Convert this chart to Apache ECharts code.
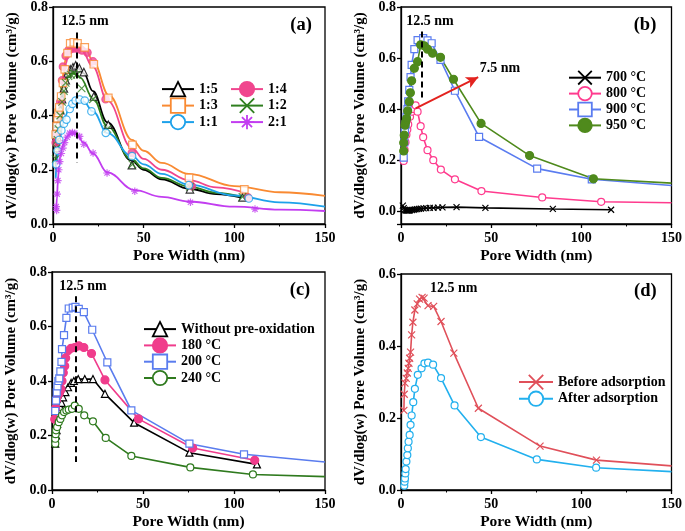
<!DOCTYPE html>
<html><head><meta charset="utf-8">
<script src="https://cdn.jsdelivr.net/npm/echarts@6/dist/echarts.min.js"></script>
<style>html,body{margin:0;padding:0;background:#fff}#c{width:685px;height:531px}</style>
</head><body><div id="c"></div>
<script>
// ---------- Panel (a): fitted curves ----------
const aCurve15 = [[1.5,0.22],[2,0.26],[3,0.33],[4,0.4],[5,0.46],[6,0.5],[7,0.535],[8.5,0.56],[10,0.575],[12,0.58],[14,0.575],[17,0.555],[22,0.49],[30,0.375],[43,0.235],[50,0.2],[60,0.165],[75,0.13],[90,0.11],[104,0.097]];
const aCurve14 = [[1.5,0.27],[2,0.31],[3,0.38],[4,0.44],[5,0.5],[6,0.55],[7,0.59],[8.5,0.625],[10,0.64],[13,0.645],[16,0.638],[22,0.58],[30,0.455],[43.6,0.28],[50,0.24],[60,0.2],[75,0.162],[90,0.135],[108,0.11]];
const aCurve13 = [[1.5,0.28],[2,0.33],[3,0.4],[4,0.46],[5,0.52],[6,0.57],[7,0.61],[8.5,0.645],[10,0.662],[12,0.669],[15,0.662],[18,0.645],[22,0.6],[31,0.473],[43.6,0.31],[50,0.27],[60,0.225],[75,0.185],[100,0.14],[125,0.117],[150,0.104]];
const aCurve12 = [[1.5,0.2],[2,0.25],[3,0.34],[4,0.41],[5,0.46],[6,0.5],[7,0.525],[8.5,0.548],[10.5,0.555],[13,0.552],[15,0.54],[22,0.465],[30,0.36],[43,0.24],[50,0.205],[60,0.17],[75,0.138],[90,0.115],[104,0.1]];
const aCurve11 = [[1.5,0.17],[2,0.22],[3,0.28],[4,0.32],[5,0.355],[6,0.38],[7,0.4],[8.5,0.425],[10,0.44],[12,0.452],[14,0.457],[17,0.45],[22,0.415],[30,0.335],[43.6,0.25],[50,0.22],[60,0.185],[75,0.145],[100,0.105],[125,0.08],[150,0.064]];
const aCurve21 = [[1.8,0.05],[2.2,0.1],[2.7,0.16],[3.3,0.21],[4,0.25],[5,0.28],[6,0.3],[7.5,0.32],[9,0.33],[11,0.335],[13,0.33],[17,0.3],[22,0.26],[30,0.19],[45,0.125],[60,0.1],[75,0.083],[100,0.064],[125,0.053],[150,0.048]];
// ---------- Panel (a): measured points ----------
const aPts15 = [[2,0.28],[2.5,0.32],[3,0.37],[4,0.42],[5,0.46],[6,0.5],[7,0.53],[8,0.555],[9.5,0.57],[11,0.578],[12.5,0.585],[14.5,0.575],[17,0.56],[22.5,0.47],[30.5,0.366],[43.5,0.217],[75.5,0.128],[104.5,0.098]];
const aPts14 = [[1.5,0.3],[2,0.33],[3,0.4],[4,0.45],[5,0.53],[5.5,0.58],[7,0.62],[8.5,0.64],[10,0.645],[12,0.647],[14,0.645],[16,0.64],[19,0.632],[22,0.6],[29,0.46],[43.5,0.262],[76.5,0.14],[107.5,0.098]];
const aPts13 = [[1.5,0.33],[2,0.36],[2.5,0.39],[3,0.41],[3.5,0.43],[4.5,0.47],[5.5,0.52],[6.5,0.57],[8,0.63],[9.5,0.666],[11.5,0.67],[13.5,0.666],[17.5,0.651],[22.5,0.589],[30.5,0.465],[43.8,0.292],[75,0.17],[105.5,0.128]];
const aPts12 = [[1.5,0.24],[2,0.28],[2.5,0.31],[3,0.35],[4,0.4],[5,0.45],[6,0.49],[7,0.52],[8.5,0.545],[10,0.55],[11.5,0.555],[13,0.55],[15.8,0.5],[22,0.46],[30,0.35],[43.8,0.22],[75.5,0.137],[104.5,0.1]];
const aPts11 = [[1.8,0.22],[2.5,0.27],[3.5,0.31],[4.6,0.345],[6,0.37],[7.4,0.385],[9.2,0.424],[10.7,0.443],[12.5,0.455],[14.7,0.459],[17.5,0.455],[21.2,0.415],[29.1,0.336],[43.6,0.25],[74.9,0.143],[108,0.094]];
const aPts21 = [[1.8,0.064],[2,0.05],[2.3,0.11],[2.7,0.16],[3.2,0.2],[3.7,0.23],[4.6,0.26],[5.5,0.28],[6.4,0.3],[7.8,0.32],[9.2,0.335],[10.7,0.337],[12,0.335],[14.7,0.323],[17,0.294],[22.1,0.262],[29.8,0.188],[45.1,0.121],[75.8,0.08],[111.4,0.055]];
// ---------- Panel (b) ----------
const b700 = [[1,0.022],[1.5,0.012],[2,0.006],[2.5,0.004],[3,0.003],[3.5,0.003],[4,0.003],[4.5,0.003],[5,0.004],[6,0.005],[7,0.006],[8,0.007],[9,0.008],[10,0.009],[11,0.01],[12.5,0.011],[14,0.012],[16,0.013],[18,0.013],[20.5,0.014],[23,0.015],[30.8,0.016],[46.8,0.013],[84.2,0.009],[116.5,0.006]];
const b800 = [[1.5,0.197],[2,0.24],[2.5,0.27],[3,0.3],[3.5,0.32],[4,0.34],[5,0.37],[6,0.39],[6.8,0.4],[8.1,0.415],[9.2,0.39],[10.9,0.333],[12.3,0.29],[14.7,0.239],[17.9,0.2],[22.1,0.163],[29.9,0.125],[44.6,0.079],[78.3,0.054],[111,0.037]];
const b800Tail = [[150,0.033]];
const b900 = [[1.5,0.21],[1.8,0.27],[2.2,0.31],[2.6,0.34],[3.1,0.37],[3.6,0.4],[4,0.43],[4.6,0.475],[5.3,0.525],[5.9,0.573],[7.4,0.635],[9.2,0.67],[12.3,0.678],[14.7,0.669],[17,0.658],[21.9,0.593],[29.9,0.472],[43.3,0.291],[75.5,0.167],[105.8,0.125]];
const b900Tail = [[150,0.101]];
const b950 = [[1.5,0.236],[1.5,0.268],[1.8,0.298],[2.2,0.337],[2.6,0.35],[3.1,0.363],[3.7,0.393],[4.6,0.429],[5.2,0.464],[5.9,0.511],[7.4,0.56],[9.2,0.586],[10.9,0.652],[12.9,0.648],[14.7,0.635],[17.5,0.619],[21.9,0.603],[29.1,0.517],[44.4,0.344],[71.3,0.218],[106.7,0.127]];
const b950Tail = [[150,0.11]];
// ---------- Panel (c) ----------
const cNone = [[1.8,0.17],[2.2,0.2],[2.5,0.22],[2.8,0.243],[3.3,0.274],[4,0.29],[4.6,0.304],[5.3,0.32],[6.1,0.34],[7.4,0.359],[8.8,0.377],[10.5,0.393],[12,0.4],[14.4,0.407],[18,0.407],[22.5,0.407],[29.1,0.353],[45.1,0.247],[75.5,0.137],[112.6,0.094]];
const c180 = [[1.5,0.26],[2,0.3],[2.5,0.33],[3,0.345],[4,0.355],[5,0.37],[5.5,0.4],[6.2,0.43],[7,0.455],[7.5,0.484],[8.7,0.511],[10.5,0.52],[12.5,0.523],[14.7,0.529],[17.5,0.523],[21.7,0.501],[29.1,0.404],[47.5,0.261],[77.3,0.154],[111.4,0.109]];
const c200 = [[1.8,0.29],[2.2,0.328],[2.6,0.358],[3,0.38],[3.5,0.4],[4,0.41],[4.6,0.435],[5.2,0.47],[5.5,0.517],[6.6,0.568],[7.9,0.632],[9.2,0.666],[11.4,0.669],[12.9,0.672],[14.7,0.665],[17.5,0.653],[22.1,0.588],[30.4,0.468],[43.6,0.292],[75.5,0.17],[105.5,0.131]];
const c200Tail = [[150,0.103]];
const c240 = [[1.8,0.17],[1.8,0.188],[2,0.205],[2.2,0.219],[2.8,0.231],[3.7,0.249],[4.6,0.261],[5.5,0.274],[6.6,0.286],[7.9,0.292],[9.2,0.295],[11,0.298],[12.5,0.31],[14.7,0.298],[17.7,0.274],[22.5,0.252],[29.5,0.191],[43.6,0.125],[76,0.083],[110.4,0.057]];
const c240Tail = [[150,0.049]];
// ---------- Panel (d) ----------
const dBefore = [[1.6,0.221],[1.8,0.266],[2.2,0.297],[2.9,0.31],[3.5,0.325],[4,0.338],[4.4,0.352],[4.8,0.366],[5.3,0.383],[5.9,0.431],[6.6,0.466],[7.7,0.5],[9,0.517],[10.3,0.53],[11.7,0.535],[12.8,0.533],[15,0.512],[18.1,0.51],[22.2,0.468],[29.3,0.38],[42.9,0.227],[77.1,0.122],[108.4,0.083]];
const dBeforeTail = [[150,0.067]];
const dAfter = [[1.8,0.012],[2,0.023],[2.2,0.032],[2.4,0.046],[2.6,0.058],[3,0.079],[3.5,0.097],[3.8,0.116],[4.2,0.134],[4.8,0.153],[5.3,0.181],[5.9,0.207],[6.8,0.244],[7.7,0.281],[9.3,0.32],[11.4,0.338],[13,0.352],[15,0.354],[17.8,0.348],[22.2,0.311],[29.7,0.235],[44.3,0.147],[75.3,0.085],[108.2,0.062]];
const dAfterTail = [[150,0.051]];

const yTicks = ['0.0','0.2','0.4','0.6','0.8'];
const xName = 'Pore Width (nm)';
const yName = 'dV/dlog(w) Pore Volume (cm³/g)';

const FONT = '"Liberation Serif", "Times New Roman", serif';
const X_SYM = 'path://M0,0L10,10M10,0L0,10';
const STAR_SYM = 'path://M5,0L5,10M0,5L10,5M1.5,1.5L8.5,8.5M8.5,1.5L1.5,8.5';

const grids = [
  {left:53, top:5, width:272, height:219},
  {left:401, top:5, width:272, height:219},
  {left:52, top:272, width:273, height:220},
  {left:401, top:274, width:273, height:216}
];
const yRanges = [[0,0.8],[-0.05,0.8],[0,0.8],[0,0.6]];

function xAx(i){
  return {gridIndex:i, type:'value', min:0, max:150, interval:50,
    name:xName, nameLocation:'middle', nameGap:24,
    nameTextStyle:{fontFamily:FONT,fontWeight:'bold',fontSize:15.5,color:'#000'},
    axisLine:{onZero:false, lineStyle:{color:'#000',width:1.3}},
    axisTick:{show:true,inside:false,length:4,lineStyle:{color:'#000',width:1.3}},
    minorTick:{show:true,splitNumber:2,length:2.5,lineStyle:{color:'#000',width:1}},
    axisLabel:{margin:7,fontFamily:FONT,fontWeight:'bold',fontSize:14,color:'#000'},
    splitLine:{show:false}, minorSplitLine:{show:false}};
}
function yAx(i){
  const r = yRanges[i];
  const o = {gridIndex:i, type:'value', min:r[0], max:r[1],
    name:yName, nameLocation:'middle', nameGap:33, nameRotate:90,
    nameTextStyle:{fontFamily:FONT,fontWeight:'bold',fontSize:15,color:'#000'},
    axisLine:{onZero:false, lineStyle:{color:'#000',width:1.3}},
    axisTick:{show:true,inside:false,length:4,lineStyle:{color:'#000',width:1.3}},
    axisLabel:{margin:5,fontFamily:FONT,fontWeight:'bold',fontSize:14,color:'#000',
      formatter:function(v){ if (v < -1e-9) return ''; const s = v.toFixed(1); return yTicks.indexOf(s) >= 0 ? s : ''; }},
    splitLine:{show:false}};
  if (r[0] >= 0) o.interval = 0.2;
  return o;
}

function style(color, hollow){
  return hollow ? {color:'#fff', borderColor:color, borderWidth:1.2}
                : {color:color, borderColor:color, borderWidth:1.2};
}
function withTail(pts, tail){
  return pts.concat((tail||[]).map(function(p){ return {value:p, symbol:'none'}; }));
}
function lineS(name, gi, pts, tail, color, symbol, hollow, size){
  return {name:name, type:'line', xAxisIndex:gi, yAxisIndex:gi,
    data:withTail(pts, tail), symbol:symbol, symbolSize:size||7, showSymbol:true,
    lineStyle:{color:color, width:1.6}, itemStyle:style(color, hollow),
    emphasis:{disabled:true}, z:3};
}
function curveS(name, pts, color, symbol, hollow){
  return {name:name, type:'line', xAxisIndex:0, yAxisIndex:0, data:pts,
    smooth:0.4, smoothMonotone:'x', symbol:symbol, symbolSize:7, showSymbol:false,
    lineStyle:{color:color, width:1.8}, itemStyle:style(color, hollow),
    emphasis:{disabled:true}, z:2};
}
function ptsS(name, pts, color, symbol, hollow){
  return {name:name+' pts', type:'scatter', xAxisIndex:0, yAxisIndex:0, data:pts,
    symbol:symbol, symbolSize:7.5, itemStyle:style(color, hollow), emphasis:{disabled:true}, z:3};
}
function dashed(x, y1, y2){
  return {silent:true, symbol:['none','none'], label:{show:false}, animation:false,
    lineStyle:{color:'#000', type:[6,4], width:2},
    data:[[{coord:[x,y1]},{coord:[x,y2]}]]};
}

const C = {
  a15:'#000000', a14:'#F0468E', a13:'#F98A32', a12:'#2F7F1F', a11:'#1DA1EA', a21:'#C23DF0',
  b700:'#000000', b800:'#FF3B8E', b900:'#5A7CF0', b950:'#4F8A1C',
  cNone:'#000000', c180:'#F03C8C', c200:'#5A7CEE', c240:'#2F7A1E',
  dB:'#E0505A', dA:'#22B0EE'
};

const s15 = curveS('1:5', aCurve15, C.a15, 'triangle', true);
s15.markLine = dashed(13.3, 0.706, 0.226);
const series = [
  s15,
  curveS('1:4', aCurve14, C.a14, 'circle', false),
  curveS('1:3', aCurve13, C.a13, 'rect', true),
  curveS('1:2', aCurve12, C.a12, X_SYM, false),
  curveS('1:1', aCurve11, C.a11, 'circle', true),
  curveS('2:1', aCurve21, C.a21, STAR_SYM, false),
  ptsS('1:5', aPts15, C.a15, 'triangle', true),
  ptsS('1:4', aPts14, C.a14, 'circle', false),
  ptsS('1:3', aPts13, C.a13, 'rect', true),
  ptsS('1:2', aPts12, C.a12, X_SYM, false),
  ptsS('1:1', aPts11, C.a11, 'circle', true),
  ptsS('2:1', aPts21, C.a21, STAR_SYM, false)
];
const s700 = lineS('700 °C', 1, b700, null, C.b700, X_SYM, false, 6);
const s800 = lineS('800 °C', 1, b800, b800Tail, C.b800, 'circle', true, 7);
s800.markLine = {silent:true, symbol:['none','arrow'], symbolSize:[9,12], label:{show:false}, animation:false,
  lineStyle:{color:'#E3231F', type:'solid', width:2},
  data:[[{coord:[8.1,0.403]},{coord:[42.8,0.525]}]]};
const s900 = lineS('900 °C', 1, b900, b900Tail, C.b900, 'rect', true, 7);
const s950 = lineS('950 °C', 1, b950, b950Tail, C.b950, 'circle', false, 8);
s950.markLine = dashed(11.4, 0.704, 0.435);
series.push(s700, s800, s900, s950);

const sNone = lineS('Without pre-oxidation', 2, cNone, null, C.cNone, 'triangle', true, 7);
sNone.markLine = dashed(13.3, 0.711, 0.103);
series.push(sNone,
  lineS('180 °C', 2, c180, null, C.c180, 'circle', false, 8),
  lineS('200 °C', 2, c200, c200Tail, C.c200, 'rect', true, 7),
  lineS('240 °C', 2, c240, c240Tail, C.c240, 'circle', true, 7));

series.push(
  lineS('Before adsorption', 3, dBefore, dBeforeTail, C.dB, X_SYM, false, 7),
  lineS('After adsorption', 3, dAfter, dAfterTail, C.dA, 'circle', true, 7));

const legTxt = {fontFamily:FONT, fontWeight:'bold', fontSize:14, color:'#000'};
function leg(names, left, top, iw, ih, gap){
  return {data:names, left:left, top:top, orient:'vertical', itemWidth:iw, itemHeight:ih,
    itemGap:gap, padding:0, selectedMode:false, textStyle:legTxt, itemStyle:{borderWidth:1.8}};
}

function txt(t, x, y, size){
  return {type:'text', x:x, y:y, silent:true,
    style:{text:t, x:0, y:0, textAlign:'center', textVerticalAlign:'middle',
      font:'bold '+size+'px '+FONT, fill:'#000'}};
}

const option = {
  animation:false,
  backgroundColor:'#fff',
  grid: grids.map(function(g){ return Object.assign({show:true, borderColor:'#000', borderWidth:1.3, backgroundColor:'transparent', containLabel:false}, g); }),
  xAxis:[0,1,2,3].map(xAx),
  yAxis:[0,1,2,3].map(yAx),
  legend:[
    leg(['1:5','1:3','1:1'], 161, 81, 32, 18, 0.3),
    leg(['1:4','1:2','2:1'], 230, 81, 32, 18, 0.3),
    leg(['700 °C','800 °C','900 °C','950 °C'], 568, 70, 32, 17, 0.5),
    leg(['Without pre-oxidation','180 °C','200 °C','240 °C'], 143, 321, 32, 18, 0.1),
    leg(['Before adsorption','After adsorption'], 518, 374, 34, 18, 0.4)
  ],
  graphic:[
    txt('12.5 nm', 85, 21.7, 14), txt('(a)', 301, 25, 18.5),
    txt('12.5 nm', 430, 21.7, 14), txt('(b)', 645, 25, 18.5), txt('7.5 nm', 500, 68.3, 14),
    txt('12.5 nm', 83, 286.7, 14), txt('(c)', 300, 290, 18.5),
    txt('12.5 nm', 453.7, 288.3, 14), txt('(d)', 645.3, 291.7, 18.5)
  ],
  series: series
};
const chart = echarts.init(document.getElementById('c'), null, {renderer:'canvas'});
chart.setOption(option);
</script></body></html>
